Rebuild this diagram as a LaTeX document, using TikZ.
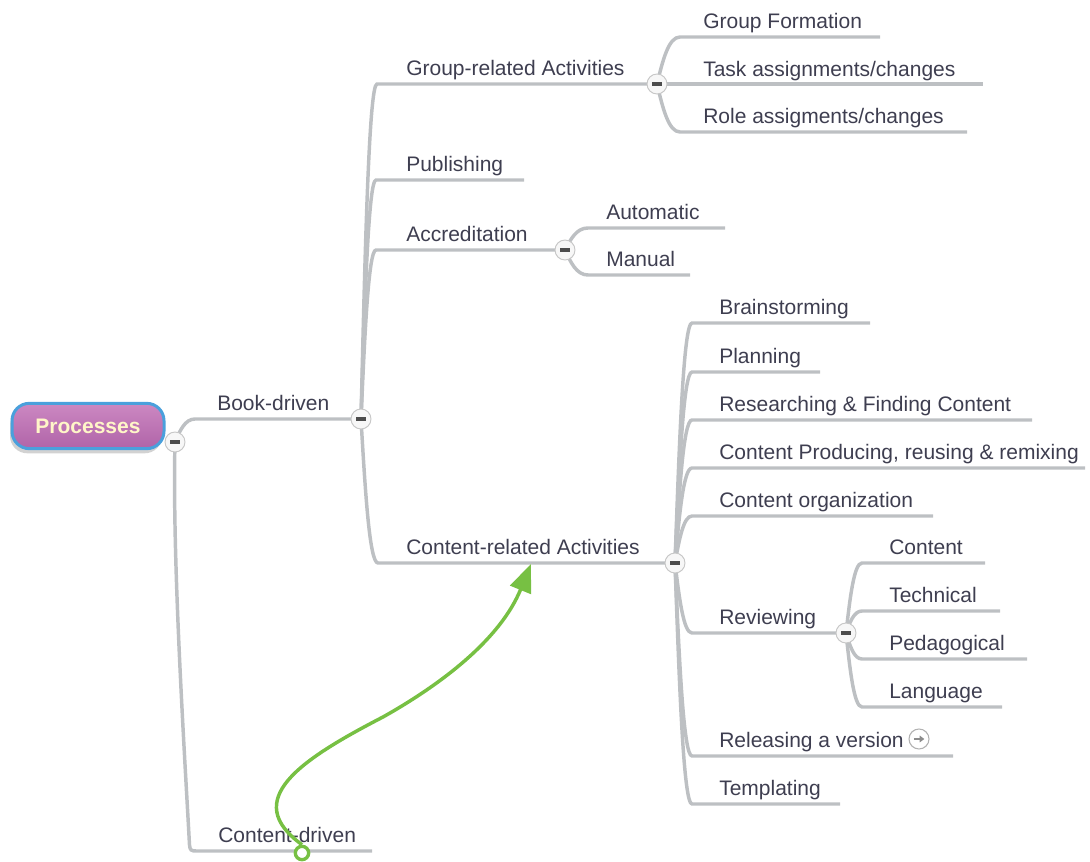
\documentclass[tikz,border=0pt]{standalone}
\usepackage{fontspec}
\setmainfont{Liberation Sans}
\usetikzlibrary{calc,shadows,arrows.meta}
\definecolor{linegray}{HTML}{BDC0C3}
\definecolor{txt}{HTML}{3E3E50}
\definecolor{arrowgreen}{HTML}{77C043}
\definecolor{proctop}{HTML}{CC88C2}
\definecolor{procbot}{HTML}{B064A8}
\definecolor{procborder}{HTML}{4AA0DC}
\definecolor{proctext}{HTML}{FFF6C8}
\newcommand\mmbranch[3]{%
  \coordinate (mmtmp) at ($(#1|-#2)!0.5!(#2)$);
  \draw[branch] (#1) .. controls ($(#1)!0.5!(mmtmp)$) and (mmtmp) .. (#2) -- (#3);}
\begin{document}
\begin{tikzpicture}[x=0.75pt,y=-0.75pt,
  branch/.style={draw=linegray, line width=2.6pt},
  topic/.style={anchor=base west, inner sep=0pt, text=txt, font=\fontsize{15.75pt}{18pt}\selectfont},
  btn/.style={circle, draw=black!22, line width=0.7pt, fill=black!3, minimum size=15pt, inner sep=0pt,
    path picture={\fill[black!70] ($(path picture bounding box.center)+(-4pt,-1.2pt)$) rectangle ($(path picture bounding box.center)+(4pt,1.2pt)$);}},
  procnode/.style={rounded corners=13pt, draw=procborder, line width=2.25pt, top color=proctop, bottom color=procbot,
    minimum width=114pt, minimum height=34pt, text=proctext, font=\fontsize{15.75pt}{18pt}\selectfont\bfseries,
    drop shadow={shadow xshift=-1.5pt, shadow yshift=-3.5pt, fill=black!35, opacity=0.5}},
]
\useasboundingbox (0,0) rectangle (1090,862);

% ---- button and corner coordinates ----
\coordinate (b-root) at (175,442);
\coordinate (b-bd) at (361,419);
\coordinate (b-gr) at (657,84);
\coordinate (b-acc) at (565,250);
\coordinate (b-cr) at (675,563);
\coordinate (b-rev) at (846,633);

\coordinate (c-bd) at (195,419);
\coordinate (c-cd) at (196,851); \coordinate (e-cd) at (372,851);
\coordinate (c-gr) at (377,84);
\coordinate (c-pub) at (376,180); \coordinate (e-pub) at (524,180);
\coordinate (c-acc) at (376,250);
\coordinate (c-cr) at (378,563);

\coordinate (c-gf) at (680,37);  \coordinate (e-gf) at (880,37);
\coordinate (c-task) at (680,84); \coordinate (e-task) at (983,84);
\coordinate (c-role) at (680,132); \coordinate (e-role) at (967,132);

\coordinate (c-auto) at (588,228); \coordinate (e-auto) at (725,228);
\coordinate (c-man) at (588,275); \coordinate (e-man) at (690,275);

\coordinate (c-brain) at (692,323); \coordinate (e-brain) at (870,323);
\coordinate (c-plan) at (692,372); \coordinate (e-plan) at (820,372);
\coordinate (c-res) at (692,420); \coordinate (e-res) at (1032,420);
\coordinate (c-prod) at (692,468); \coordinate (e-prod) at (1085,468);
\coordinate (c-org) at (692,516); \coordinate (e-org) at (933,516);
\coordinate (c-rev) at (692,633);
\coordinate (c-rel) at (692,756); \coordinate (e-rel) at (953,756);
\coordinate (c-tmp) at (692,804); \coordinate (e-tmp) at (840,804);

\coordinate (c-rc) at (862,563); \coordinate (e-rc) at (985,563);
\coordinate (c-tech) at (862,611); \coordinate (e-tech) at (1000,611);
\coordinate (c-ped) at (862,659); \coordinate (e-ped) at (1027,659);
\coordinate (c-lang) at (862,707); \coordinate (e-lang) at (1002,707);

% ---- branches ----
\mmbranch{b-root}{c-bd}{b-bd}
\draw[branch] (b-root) .. controls (172,560) and (185,760) .. (189.5,845) .. controls (190,850) and (191,851) .. (c-cd) -- (e-cd);

\mmbranch{b-bd}{c-gr}{b-gr}
\mmbranch{b-bd}{c-pub}{e-pub}
\mmbranch{b-bd}{c-acc}{b-acc}
\mmbranch{b-bd}{c-cr}{b-cr}

\mmbranch{b-gr}{c-gf}{e-gf}
\mmbranch{b-gr}{c-task}{e-task}
\mmbranch{b-gr}{c-role}{e-role}

\mmbranch{b-acc}{c-auto}{e-auto}
\mmbranch{b-acc}{c-man}{e-man}

\mmbranch{b-cr}{c-brain}{e-brain}
\mmbranch{b-cr}{c-plan}{e-plan}
\mmbranch{b-cr}{c-res}{e-res}
\mmbranch{b-cr}{c-prod}{e-prod}
\mmbranch{b-cr}{c-org}{e-org}
\mmbranch{b-cr}{c-rev}{b-rev}
\mmbranch{b-cr}{c-rel}{e-rel}
\mmbranch{b-cr}{c-tmp}{e-tmp}

\mmbranch{b-rev}{c-rc}{e-rc}
\mmbranch{b-rev}{c-tech}{e-tech}
\mmbranch{b-rev}{c-ped}{e-ped}
\mmbranch{b-rev}{c-lang}{e-lang}

% ---- texts ----
\node[topic] (t-bd) at (217,410.5) {Book-driven};
\node[topic] (t-cd) at (218,842.5) {Content-driven};
\node[topic] (t-gr) at (406,75.5) {Group-related Activities};
\node[topic] (t-pub) at (406,171.5) {Publishing};
\node[topic] (t-acc) at (406,241.5) {Accreditation};
\node[topic] (t-cr) at (406,554.5) {Content-related Activities};
\node[topic] (t-gf) at (703,29) {Group Formation};
\node[topic] (t-task) at (703,76.5) {Task assignments/changes};
\node[topic] (t-role) at (703,124) {Role assigments/changes};
\node[topic] (t-auto) at (606,220) {Automatic};
\node[topic] (t-man) at (606,267) {Manual};
\node[topic] (t-brain) at (719,315) {Brainstorming};
\node[topic] (t-plan) at (719,364) {Planning};
\node[topic] (t-res) at (719,412) {Researching \& Finding Content};
\node[topic] (t-prod) at (719,460) {Content Producing, reusing \& remixing};
\node[topic] (t-org) at (719,508) {Content organization};
\node[topic] (t-rev) at (719,625) {Reviewing};
\node[topic] (t-rel) at (719,748) {Releasing a version};
\node[topic] (t-tmp) at (719,796) {Templating};
\node[topic] (t-rc) at (889,555) {Content};
\node[topic] (t-tech) at (889,603) {Technical};
\node[topic] (t-ped) at (889,651) {Pedagogical};
\node[topic] (t-lang) at (889,699) {Language};

% releasing icon
\node[circle, draw=black!30, line width=0.8pt, fill=white, minimum size=15pt, inner sep=0pt,
  path picture={\draw[black!45, line width=1.3pt, -{Triangle[length=3.5pt,width=5pt]}]
    ($(path picture bounding box.center)+(-3.8pt,0)$) -- ($(path picture bounding box.center)+(4pt,0)$);}]
  (relicon) at (919,739) {};

% ---- root ----
\node[procnode] (proc) at (88,426) {Processes};

% ---- buttons ----
\node[btn] (nb-root) at (b-root) {};
\node[btn] (nb-bd) at (b-bd) {};
\node[btn] (nb-gr) at (b-gr) {};
\node[btn] (nb-acc) at (b-acc) {};
\node[btn] (nb-cr) at (b-cr) {};
\node[btn] (nb-rev) at (b-rev) {};

% ---- green relation arrow ----
\node[circle, draw=arrowgreen, line width=2.5pt, fill=white, minimum size=10pt, inner sep=0pt] (gcirc) at (302,853) {};
\coordinate (g-mid) at (383,717);
\coordinate (g-tip) at (531,564);
\draw[arrowgreen, line width=2.6pt, -{Triangle[length=21pt,width=16.5pt]}]
  (gcirc.north) .. controls (240,800) and (300,760) .. (g-mid) .. controls (440,685) and (500,640) .. (g-tip);
\end{tikzpicture}
\end{document}
